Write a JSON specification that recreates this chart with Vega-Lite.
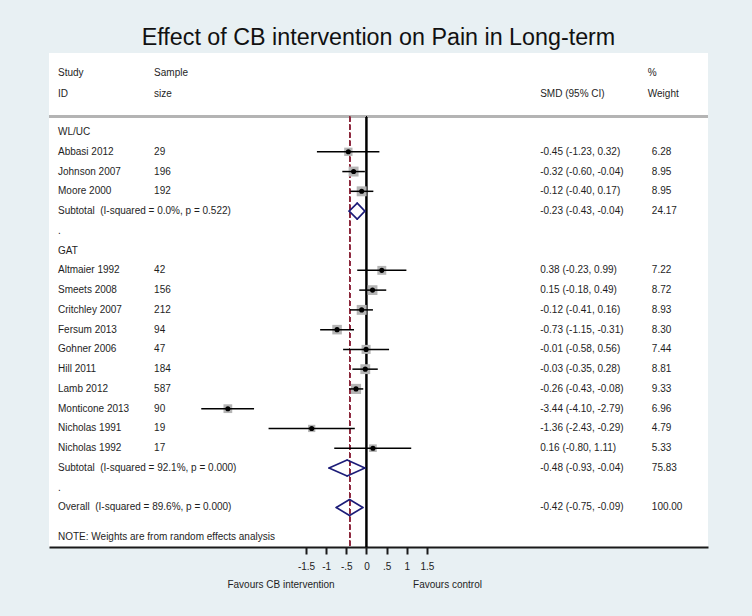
{
  "$schema": "https://vega.github.io/schema/vega-lite/v6.json",
  "width": 659,
  "height": 494,
  "autosize": {"type": "none"},
  "padding": {"left": 49, "top": 53, "right": 44, "bottom": 69},
  "background": "#e8f0f3",
  "title": {
    "text": "Effect of CB intervention on Pain in Long-term",
    "font": "Liberation Sans",
    "fontSize": 23.3,
    "fontWeight": "normal",
    "color": "#111111",
    "anchor": "middle",
    "baseline": "alphabetic",
    "offset": 6,
    "dy": 21
  },
  "config": {
    "view": {"fill": "white", "stroke": null},
    "text": {"font": "Liberation Sans", "fontSize": 10, "color": "#1e1e1e", "baseline": "middle", "align": "left"}
  },
  "datasets": {
    "rows": [
      {"row": -3, "study": "Study", "n": "Sample", "smd": "", "wt": "%", "type": "header"},
      {"row": -1.9, "study": "ID", "n": "size", "smd": "SMD (95% CI)", "wt": "Weight", "type": "header"},
      {"row": 0, "study": "WL/UC", "n": "", "smd": "", "wt": "", "type": "label"},
      {"row": 1, "study": "Abbasi 2012", "n": "29", "est": -0.45, "lo": -1.23, "hi": 0.32, "weight": 6.28, "smd": "-0.45 (-1.23, 0.32)", "wt": "6.28", "type": "study"},
      {"row": 2, "study": "Johnson 2007", "n": "196", "est": -0.32, "lo": -0.60, "hi": -0.04, "weight": 8.95, "smd": "-0.32 (-0.60, -0.04)", "wt": "8.95", "type": "study"},
      {"row": 3, "study": "Moore 2000", "n": "192", "est": -0.12, "lo": -0.40, "hi": 0.17, "weight": 8.95, "smd": "-0.12 (-0.40, 0.17)", "wt": "8.95", "type": "study"},
      {"row": 4, "study": "Subtotal\u00a0 (I-squared = 0.0%, p = 0.522)", "n": "", "est": -0.23, "lo": -0.43, "hi": -0.04, "weight": 24.17, "smd": "-0.23 (-0.43, -0.04)", "wt": "24.17", "type": "pooled"},
      {"row": 5, "study": ".", "n": "", "smd": "", "wt": "", "type": "label"},
      {"row": 6, "study": "GAT", "n": "", "smd": "", "wt": "", "type": "label"},
      {"row": 7, "study": "Altmaier 1992", "n": "42", "est": 0.38, "lo": -0.23, "hi": 0.99, "weight": 7.22, "smd": "0.38 (-0.23, 0.99)", "wt": "7.22", "type": "study"},
      {"row": 8, "study": "Smeets 2008", "n": "156", "est": 0.15, "lo": -0.18, "hi": 0.49, "weight": 8.72, "smd": "0.15 (-0.18, 0.49)", "wt": "8.72", "type": "study"},
      {"row": 9, "study": "Critchley 2007", "n": "212", "est": -0.12, "lo": -0.41, "hi": 0.16, "weight": 8.93, "smd": "-0.12 (-0.41, 0.16)", "wt": "8.93", "type": "study"},
      {"row": 10, "study": "Fersum 2013", "n": "94", "est": -0.73, "lo": -1.15, "hi": -0.31, "weight": 8.30, "smd": "-0.73 (-1.15, -0.31)", "wt": "8.30", "type": "study"},
      {"row": 11, "study": "Gohner 2006", "n": "47", "est": -0.01, "lo": -0.58, "hi": 0.56, "weight": 7.44, "smd": "-0.01 (-0.58, 0.56)", "wt": "7.44", "type": "study"},
      {"row": 12, "study": "Hill 2011", "n": "184", "est": -0.03, "lo": -0.35, "hi": 0.28, "weight": 8.81, "smd": "-0.03 (-0.35, 0.28)", "wt": "8.81", "type": "study"},
      {"row": 13, "study": "Lamb 2012", "n": "587", "est": -0.26, "lo": -0.43, "hi": -0.08, "weight": 9.33, "smd": "-0.26 (-0.43, -0.08)", "wt": "9.33", "type": "study"},
      {"row": 14, "study": "Monticone 2013", "n": "90", "est": -3.44, "lo": -4.10, "hi": -2.79, "weight": 6.96, "smd": "-3.44 (-4.10, -2.79)", "wt": "6.96", "type": "study"},
      {"row": 15, "study": "Nicholas 1991", "n": "19", "est": -1.36, "lo": -2.43, "hi": -0.29, "weight": 4.79, "smd": "-1.36 (-2.43, -0.29)", "wt": "4.79", "type": "study"},
      {"row": 16, "study": "Nicholas 1992", "n": "17", "est": 0.16, "lo": -0.80, "hi": 1.11, "weight": 5.33, "smd": "0.16 (-0.80, 1.11)", "wt": "5.33", "type": "study"},
      {"row": 17, "study": "Subtotal\u00a0 (I-squared = 92.1%, p = 0.000)", "n": "", "est": -0.48, "lo": -0.93, "hi": -0.04, "weight": 75.83, "smd": "-0.48 (-0.93, -0.04)", "wt": "75.83", "type": "pooled"},
      {"row": 18, "study": ".", "n": "", "smd": "", "wt": "", "type": "label"},
      {"row": 19, "study": "Overall\u00a0 (I-squared = 89.6%, p = 0.000)", "n": "", "est": -0.42, "lo": -0.75, "hi": -0.09, "weight": 100.00, "smd": "-0.42 (-0.75, -0.09)", "wt": "100.00", "type": "pooled"},
      {"row": 20.5, "study": "NOTE: Weights are from random effects analysis", "n": "", "smd": "", "wt": "", "type": "label"},
      {"row": 22.9, "favours": "Favours CB intervention", "type": "favours-left"},
      {"row": 22.9, "favours": "Favours control", "type": "favours-right"}
    ]
  },
  "data": {"name": "rows"},
  "encoding": {
    "y": {"field": "row", "type": "quantitative", "scale": {"domain": [-4, 21], "reverse": true, "nice": false, "zero": false}, "axis": null}
  },
  "layer": [
    {
      "mark": {"type": "rule", "color": "#b4b4b4", "strokeWidth": 2},
      "encoding": {"y": {"datum": -0.77, "type": "quantitative"}}
    },
    {
      "mark": {"type": "rule", "color": "#000000", "strokeWidth": 1.1},
      "encoding": {"x": {"datum": 0, "type": "quantitative"}, "y": {"datum": -0.77, "type": "quantitative"}, "y2": {"datum": 21}}
    },
    {
      "mark": {"type": "rule", "color": "#8c2a3c", "strokeWidth": 1.1, "strokeDash": [5, 3]},
      "encoding": {"x": {"datum": -0.42, "type": "quantitative"}, "y": {"datum": -0.77, "type": "quantitative"}, "y2": {"datum": 21}}
    },
    {
      "transform": [{"filter": "datum.type == 'study'"}],
      "mark": {"type": "point", "shape": "square", "filled": true, "color": "#b5b5b5", "opacity": 1},
      "encoding": {
        "x": {"field": "est", "type": "quantitative", "scale": {"domain": [-7.878, 8.474], "nice": false, "zero": false},
          "axis": {
            "values": [-1.5, -1, -0.5, 0, 0.5, 1, 1.5],
            "labelExpr": "datum.value == -0.5 ? '-.5' : datum.value == 0.5 ? '.5' : '' + datum.value",
            "title": null,
            "grid": false,
            "domainColor": "#1a1a1a",
            "domainWidth": 2,
            "tickColor": "#1a1a1a",
            "tickWidth": 2,
            "tickSize": 7,
            "labelFont": "Liberation Sans",
            "labelFontSize": 10,
            "labelColor": "#222222",
            "labelPadding": 7
          }
        },
        "size": {"field": "weight", "type": "quantitative", "scale": {"domain": [0, 10], "range": [0, 110]}, "legend": null}
      }
    },
    {
      "transform": [{"filter": "datum.type == 'study'"}],
      "mark": {"type": "rule", "color": "#000000", "strokeWidth": 1.5},
      "encoding": {"x": {"field": "lo", "type": "quantitative"}, "x2": {"field": "hi"}}
    },
    {
      "transform": [{"filter": "datum.type == 'study'"}],
      "mark": {"type": "point", "shape": "circle", "filled": true, "color": "#000000", "opacity": 1, "size": 26},
      "encoding": {"x": {"field": "est", "type": "quantitative"}}
    },
    {
      "transform": [{"filter": "datum.type == 'pooled'"}],
      "mark": {"type": "rule", "color": "#1c1c78", "strokeWidth": 1.6, "strokeCap": "round", "y2Offset": -8},
      "encoding": {"x": {"field": "lo", "type": "quantitative"}, "x2": {"field": "est"}, "y2": {"field": "row"}}
    },
    {
      "transform": [{"filter": "datum.type == 'pooled'"}],
      "mark": {"type": "rule", "color": "#1c1c78", "strokeWidth": 1.6, "strokeCap": "round", "y2Offset": 8},
      "encoding": {"x": {"field": "lo", "type": "quantitative"}, "x2": {"field": "est"}, "y2": {"field": "row"}}
    },
    {
      "transform": [{"filter": "datum.type == 'pooled'"}],
      "mark": {"type": "rule", "color": "#1c1c78", "strokeWidth": 1.6, "strokeCap": "round", "yOffset": -8},
      "encoding": {"x": {"field": "est", "type": "quantitative"}, "x2": {"field": "hi"}, "y2": {"field": "row"}}
    },
    {
      "transform": [{"filter": "datum.type == 'pooled'"}],
      "mark": {"type": "rule", "color": "#1c1c78", "strokeWidth": 1.6, "strokeCap": "round", "yOffset": 8},
      "encoding": {"x": {"field": "est", "type": "quantitative"}, "x2": {"field": "hi"}, "y2": {"field": "row"}}
    },
    {
      "transform": [{"filter": "datum.type != 'favours-left' && datum.type != 'favours-right'"}],
      "mark": {"type": "text"},
      "encoding": {"x": {"datum": -7.655, "type": "quantitative"}, "text": {"field": "study"}}
    },
    {
      "transform": [{"filter": "datum.type != 'favours-left' && datum.type != 'favours-right'"}],
      "mark": {"type": "text"},
      "encoding": {"x": {"datum": -5.27, "type": "quantitative"}, "text": {"field": "n"}}
    },
    {
      "transform": [{"filter": "datum.type != 'favours-left' && datum.type != 'favours-right'"}],
      "mark": {"type": "text"},
      "encoding": {"x": {"datum": 4.31, "type": "quantitative"}, "text": {"field": "smd"}}
    },
    {
      "transform": [{"filter": "datum.type != 'header' && datum.type != 'favours-left' && datum.type != 'favours-right'"}],
      "mark": {"type": "text"},
      "encoding": {"x": {"datum": 7.08, "type": "quantitative"}, "text": {"field": "wt"}}
    },
    {
      "transform": [{"filter": "datum.type == 'header'"}],
      "mark": {"type": "text"},
      "encoding": {"x": {"datum": 6.98, "type": "quantitative"}, "text": {"field": "wt"}}
    },
    {
      "transform": [{"filter": "datum.type == 'favours-left'"}],
      "mark": {"type": "text", "align": "center"},
      "encoding": {"x": {"datum": -2.12, "type": "quantitative"}, "text": {"field": "favours"}}
    },
    {
      "transform": [{"filter": "datum.type == 'favours-right'"}],
      "mark": {"type": "text", "align": "center"},
      "encoding": {"x": {"datum": 2.01, "type": "quantitative"}, "text": {"field": "favours"}}
    }
  ]
}
